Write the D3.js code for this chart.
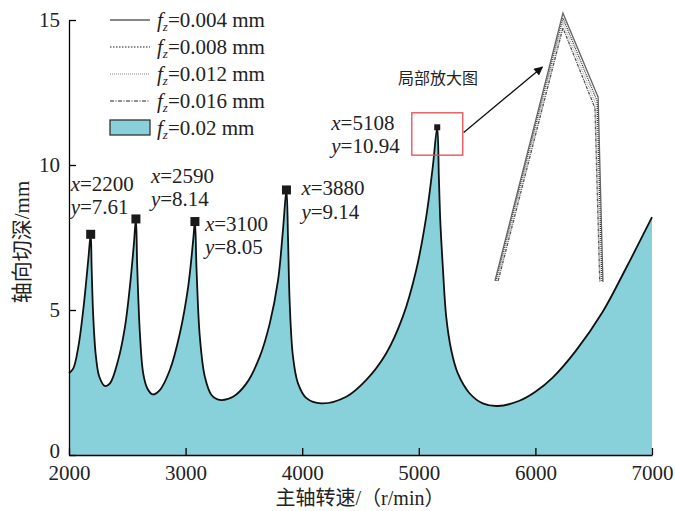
<!DOCTYPE html>
<html lang="zh">
<head>
<meta charset="utf-8">
<script src="https://d3js.org/d3.v7.min.js"></script>
<style>
  body { margin: 0; background: #fff; }
  svg { font-family: "Liberation Serif", "Noto Sans CJK SC", serif; }
  .axis path, .axis line { stroke: #000; stroke-width: 1.3; }
  .axis text { font-size: 21px; fill: #222; font-family: "Liberation Serif", serif; }
</style>
</head>
<body>
<div id="chart"></div>
<script>
// spindle speed (r/min) and limiting axial depth (mm)
var speed = [2000,2037,2080,2122,2165,2186,2194,2208,2231,2260,2308,2351,2422,2480,2522,2557,2574,
  2585,2608,2636,2671,2717,2779,2865,2951,3022,3065,3080,3094,3122,3165,3222,3293,3407,3522,3636,
  3722,3793,3835,3865,3878,3893,3921,3964,4036,4164,4378,4550,4721,4863,4978,5064,5120,5158,5172,
  5184,5206,5235,5278,5334,5435,5549,5677,5863,6000,6148,6348,6576,6777,7000];
var depth = [2.82,2.99,3.73,5.00,6.72,7.61,6.49,4.77,3.39,2.70,2.38,2.47,3.28,4.42,5.80,7.30,8.14,
  6.49,4.20,2.82,2.30,2.09,2.24,2.93,4.20,5.80,7.41,8.05,6.38,4.08,2.70,2.07,1.90,2.01,2.47,3.39,
  4.54,6.03,7.76,9.14,7.53,5.23,3.39,2.47,1.96,1.78,2.01,2.59,3.51,4.77,6.38,8.22,9.94,11.30,9.60,
  8.10,6.49,4.77,3.62,2.82,2.13,1.78,1.69,1.87,2.18,2.67,3.60,4.93,6.44,8.20];

// marked peaks
var peakX = [2186, 2574, 3080, 3865, 5158];
var peakY = [7.61, 8.14, 8.05, 9.14, 11.30];
var peakTextX = ["2200", "2590", "3100", "3880", "5108"];
var peakTextY = ["7.61", "8.14", "8.05", "9.14", "10.94"];

// legend
var feeds = ["0.004", "0.008", "0.012", "0.016", "0.02"];

// magnified peak (inset), one polyline per feed
var insetX = [
  [5135.6, 5161.1, 5174.3, 5176.1],
  [5136.0, 5161.1, 5173.9, 5175.7],
  [5136.4, 5161.1, 5173.5, 5175.3],
  [5136.8, 5161.1, 5173.1, 5174.9]
];
var insetY = [
  [10.626, 11.391, 11.151, 10.623],
  [10.626, 11.377, 11.140, 10.623],
  [10.626, 11.363, 11.130, 10.623],
  [10.626, 11.349, 11.120, 10.623]
];
// zoom box (speed range, depth range) and arrow from box to inset
var boxSpeed = [4940, 5377];
var boxDepth = [10.34, 11.8];
var arrowSpeed = [5385, 6060];
var arrowDepth = [11.12, 13.38];

var xTicks = [2000, 3000, 4000, 5000, 6000, 7000];
var yTicks = [0, 5, 10, 15];

(function() {
  var width = 675, height = 511;
  var svg = d3.select("#chart").append("svg")
      .attr("width", width)
      .attr("height", height);

  var x = d3.scaleLinear().domain([2000, 7000]).range([69, 652]);
  var y = d3.scaleLinear().domain([0, 15]).range([455, 20]);

  var data = speed.map(function(s, i) { return [s, depth[i]]; });
  var curve = d3.curveCatmullRom.alpha(0.5);

  // filled stability region
  svg.append("path")
      .datum(data)
      .attr("fill", "#88d1db")
      .attr("d", d3.area()
        .curve(curve)
        .x(function(d) { return x(d[0]); })
        .y0(y(0))
        .y1(function(d) { return y(d[1]); }));

  svg.append("path")
      .datum(data)
      .attr("fill", "none")
      .attr("stroke", "#111")
      .attr("stroke-width", 1.8)
      .attr("d", d3.line()
        .curve(curve)
        .x(function(d) { return x(d[0]); })
        .y(function(d) { return y(d[1]); }));

  // axes, ticks pointing inward
  svg.append("g")
      .attr("class", "axis")
      .attr("transform", "translate(0," + y(0) + ")")
      .call(d3.axisBottom(x).tickValues(xTicks).tickFormat(d3.format("d"))
        .tickSizeInner(-7).tickSizeOuter(0).tickPadding(10));
  svg.append("g")
      .attr("class", "axis")
      .attr("transform", "translate(" + x(2000) + ",0)")
      .call(d3.axisLeft(y).tickValues(yTicks).tickSizeInner(-7).tickSizeOuter(0).tickPadding(9))
    .selectAll(".tick text")
      .attr("dy", function(d) { return d === 0 ? "0.1em" : "0.32em"; });

  svg.append("text")
      .attr("x", 360).attr("y", 505)
      .attr("text-anchor", "middle")
      .attr("font-size", 20)
      .attr("fill", "#222")
      .text("主轴转速/（r/min）");
  svg.append("text")
      .attr("transform", "translate(29,242) rotate(-90)")
      .attr("text-anchor", "middle")
      .attr("font-size", 21)
      .attr("fill", "#222")
      .text("轴向切深/mm");

  // peak markers and labels
  var labelOffset = [[-20, -43, 23], [15, -36, 23], [10, 9, 23], [15, 5, 24], [-106, 3, 23]];
  peakX.forEach(function(px, i) {
    var s = i < 4 ? 9 : 6;
    svg.append("rect")
        .attr("x", x(px) - s / 2).attr("y", y(peakY[i]) - s / 2)
        .attr("width", s).attr("height", s)
        .attr("fill", "#1a1a1a");
    var lx = x(px) + labelOffset[i][0], ly = y(peakY[i]) + labelOffset[i][1];
    var t1 = svg.append("text").attr("x", lx).attr("y", ly).attr("font-size", 21).attr("fill", "#222");
    t1.append("tspan").attr("font-style", "italic").text("x");
    t1.append("tspan").text("=" + peakTextX[i]);
    var t2 = svg.append("text").attr("x", lx).attr("y", ly + labelOffset[i][2]).attr("font-size", 21).attr("fill", "#222");
    t2.append("tspan").attr("font-style", "italic").text("y");
    t2.append("tspan").text("=" + peakTextY[i]);
  });

  // zoom box
  svg.append("rect")
      .attr("x", x(boxSpeed[0])).attr("y", y(boxDepth[1]))
      .attr("width", x(boxSpeed[1]) - x(boxSpeed[0]))
      .attr("height", y(boxDepth[0]) - y(boxDepth[1]))
      .attr("fill", "none")
      .attr("stroke", "#e84a50")
      .attr("stroke-width", 1.3);

  // arrow
  svg.append("defs").append("marker")
      .attr("id", "head")
      .attr("viewBox", "0 0 10 10")
      .attr("refX", 9).attr("refY", 5)
      .attr("markerWidth", 11).attr("markerHeight", 9)
      .attr("markerUnits", "userSpaceOnUse")
      .attr("orient", "auto")
    .append("path")
      .attr("d", "M0,0L10,5L0,10z")
      .attr("fill", "#111");
  svg.append("line")
      .attr("x1", x(arrowSpeed[0])).attr("y1", y(arrowDepth[0]))
      .attr("x2", x(arrowSpeed[1])).attr("y2", y(arrowDepth[1]))
      .attr("stroke", "#111")
      .attr("stroke-width", 1.3)
      .attr("marker-end", "url(#head)");
  svg.append("text")
      .attr("x", 438).attr("y", 84)
      .attr("text-anchor", "middle")
      .attr("font-size", 16)
      .attr("fill", "#222")
      .text("局部放大图");

  // inset
  var ix = d3.scaleLinear().domain([5130, 5190]).range([480, 640]);
  var iy = d3.scaleLinear().domain([10.6, 11.4]).range([290, 10]);
  var insetStyle = [
    {c: "#666", w: 1.3, dash: null},
    {c: "#333", w: 1.3, dash: "1,1"},
    {c: "#aaa", w: 1.3, dash: "1,1"},
    {c: "#555", w: 1.3, dash: "3,1,1,1"}
  ];
  insetX.forEach(function(xs, k) {
    svg.append("path")
        .datum(xs.map(function(v, i) { return [v, insetY[k][i]]; }))
        .attr("fill", "none")
        .attr("stroke", insetStyle[k].c)
        .attr("stroke-width", insetStyle[k].w)
        .attr("stroke-dasharray", insetStyle[k].dash)
        .attr("d", d3.line()
          .x(function(d) { return ix(d[0]); })
          .y(function(d) { return iy(d[1]); }));
  });

  // legend
  var legendStyle = [
    {c: "#111", dash: null},
    {c: "#222", dash: "1.5,1.5"},
    {c: "#888", dash: "1,1"},
    {c: "#222", dash: "4,1.5,1,1.5"}
  ];
  var legend = svg.append("g")
    .selectAll("g")
    .data(feeds)
    .enter().append("g")
      .attr("transform", function(d, i) { return "translate(110," + (20 + i * 27) + ")"; });
  legend.each(function(d, i) {
    var g = d3.select(this);
    if (i < 4) {
      g.append("line")
          .attr("x1", 0).attr("x2", 40)
          .attr("stroke", legendStyle[i].c)
          .attr("stroke-width", 1.2)
          .attr("stroke-dasharray", legendStyle[i].dash);
    } else {
      g.append("rect")
          .attr("x", 0).attr("y", -8).attr("width", 40).attr("height", 15)
          .attr("fill", "#88d1db")
          .attr("stroke", "#333")
          .attr("stroke-width", 1.3);
    }
    var t = g.append("text").attr("x", 47).attr("y", 7).attr("font-size", 21).attr("fill", "#222");
    t.append("tspan").attr("font-style", "italic").text("f");
    t.append("tspan").attr("font-style", "italic").attr("font-size", 13).attr("dy", 4).text("z");
    t.append("tspan").attr("dy", -4).text("=" + d + " mm");
  });
})();
</script>
</body>
</html>
